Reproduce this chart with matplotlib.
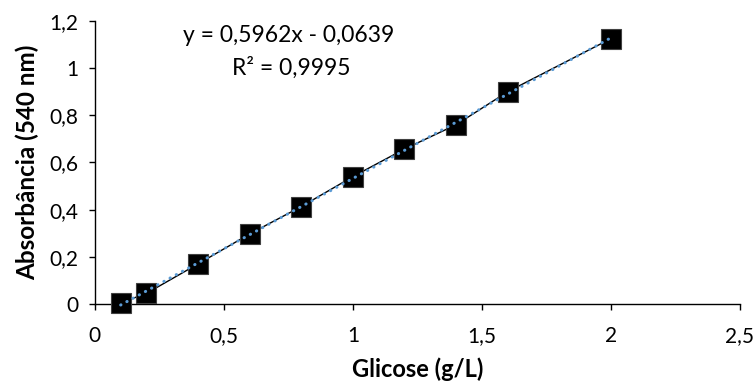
import matplotlib
matplotlib.use('Agg')
import numpy as np
import matplotlib.pyplot as plt

# data
glicose = [0.1, 0.2, 0.4, 0.6, 0.8, 1.0, 1.2, 1.4, 1.6, 2.0]
absorbancia = [0.005, 0.045, 0.17, 0.297, 0.413, 0.54, 0.657, 0.76, 0.90, 1.125]

slope, intercept = 0.5962, -0.0639
eq_text = 'y = 0,5962x - 0,0639'
r2_text = 'R² = 0,9995'

xticks = [0, 0.5, 1, 1.5, 2, 2.5]
xtick_labels = ['0', '0,5', '1', '1,5', '2', '2,5']
yticks = [0, 0.2, 0.4, 0.6, 0.8, 1.0, 1.2]
ytick_labels = ['0', '0,2', '0,4', '0,6', '0,8', '1', '1,2']

plt.rcParams['font.family'] = ['Lato', 'DejaVu Sans']

fig = plt.figure(figsize=(7.53, 3.87), dpi=100)
ax = fig.add_axes([0.126, 0.2145, 0.8566, 0.7313])

ax.plot(glicose, absorbancia, color='black', linewidth=1.0,
        marker='s', markersize=15, markerfacecolor='black',
        markeredgecolor='#404040', markeredgewidth=0.8, zorder=3, clip_on=False)

# linear trendline over the data range
tx = np.array([min(glicose), max(glicose)])
ax.plot(tx, slope * tx + intercept, color='#5B9BD5', linewidth=2.2,
        linestyle=(0, (0.1, 2.2)), dash_capstyle='round', zorder=4, clip_on=False)

ax.text(0.30, 0.95, eq_text, transform=ax.transAxes, ha='center', va='center', fontsize=16.5)
ax.text(0.304, 0.834, r2_text, transform=ax.transAxes, ha='center', va='center', fontsize=16.5)

ax.set_xlim(0, 2.5)
ax.set_ylim(0, 1.2)
ax.set_xticks(xticks)
ax.set_xticklabels(xtick_labels)
ax.set_yticks(yticks)
ax.set_yticklabels(ytick_labels)
ax.tick_params(axis='both', labelsize=15, length=4, width=1, color='black')
ax.tick_params(axis='x', pad=12)
ax.tick_params(axis='y', pad=8)

for side in ['top', 'right']:
    ax.spines[side].set_visible(False)
for side in ['left', 'bottom']:
    ax.spines[side].set_linewidth(1.0)

ax.set_xlabel('Glicose (g/L)', fontsize=17, fontweight='bold', labelpad=8)
ax.set_ylabel('Absorbância (540 nm)', fontsize=17.5, fontweight='bold', labelpad=7)

fig.savefig('out.png', dpi=100)
